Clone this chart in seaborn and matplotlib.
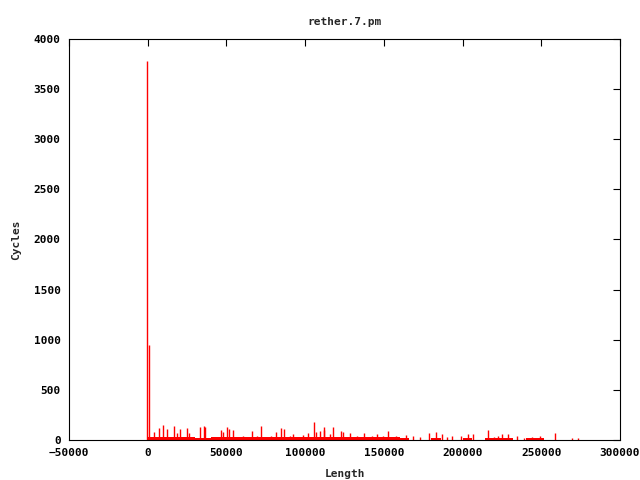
import matplotlib
matplotlib.use('Agg')
import matplotlib.pyplot as plt
import seaborn as sns
import pandas as pd

# impulses (length, cycles)
spike_len = [-200, 500, 4190, 7370, 9910, 12450, 16900, 18600, 20500, 25150, 26400,
             33200, 35950, 36600, 46750, 48000, 50550, 51800, 54000, 60700, 66250,
             69200, 72000, 78300, 81300, 84700, 86800, 90200, 92500, 98850, 102000,
             105800, 107100, 109300, 111800, 112200, 116000, 117700, 122800, 124250,
             128300, 133000, 137600, 142300, 145850, 149700, 152850, 157700, 164100,
             168500, 173000, 178900, 183150, 187000, 190300, 193100, 199200, 203500,
             206500, 216400, 220150, 222700, 225250, 229100, 234600, 239250, 243950,
             247300, 249400, 258700, 269700, 273300]
spike_cyc = [3780, 950, 80, 120, 150, 110, 140, 70, 110, 120, 70,
             130, 140, 130, 100, 80, 130, 110, 100, 40, 90,
             40, 140, 40, 80, 120, 110, 40, 60, 50, 70,
             180, 80, 90, 100, 130, 60, 130, 90, 80,
             70, 40, 70, 40, 60, 40, 90, 40, 50,
             40, 30, 70, 80, 60, 30, 40, 40, 60,
             60, 100, 30, 40, 60, 60, 40, 20, 30,
             20, 40, 70, 20, 20]

# dense low band of small impulses along the bottom
band_len = [0, 10000, 20000, 30000, 40000, 50000, 60000, 70000, 80000, 90000,
            100000, 110000, 120000, 130000, 140000, 150000, 160000, 166000,
            180000, 186000, 200000, 206000, 214000, 232000, 240000, 252000]
band_cyc = [30, 28, 25, 24, 26, 30, 26, 28, 30, 28,
            34, 30, 28, 26, 30, 28, 24, 0,
            15, 0, 15, 0, 20, 0, 15, 0]

df = pd.DataFrame({'Length': spike_len, 'Cycles': spike_cyc})
band = pd.DataFrame({'Length': band_len, 'Cycles': band_cyc})

sns.set_theme(style='white')
plt.rcParams['font.family'] = ['DejaVu Sans Mono', 'DejaVu Sans']
plt.rcParams['font.weight'] = 'bold'
plt.rcParams['font.size'] = 8

fig = plt.figure(figsize=(6.4, 4.8), dpi=100)
ax = fig.add_axes([69/640, 40/480, 551/640, 401/480])

ax.fill_between(band['Length'], 0, band['Cycles'], step='post', color='#ff0000', lw=0)
ax.vlines(df['Length'], 0, df['Cycles'], color='#ff0000', lw=1.0)

ax.set_xlim(-50000, 300000)
ax.set_ylim(0, 4000)
ax.set_xticks(range(-50000, 300001, 50000))
ax.set_yticks(range(0, 4001, 500))
ax.tick_params(direction='in', top=True, right=True, length=5, width=0.8,
               colors='black', labelsize=8, pad=6)
for s in ax.spines.values():
    s.set_color('black')
    s.set_linewidth(0.8)

ax.set_title('rether.7.pm', fontsize=8, fontweight='bold', pad=10)
ax.set_xlabel('Length', fontsize=8, fontweight='bold', labelpad=8)
ax.set_ylabel('Cycles', fontsize=8, fontweight='bold', labelpad=9)

fig.savefig('out.png', dpi=100)
